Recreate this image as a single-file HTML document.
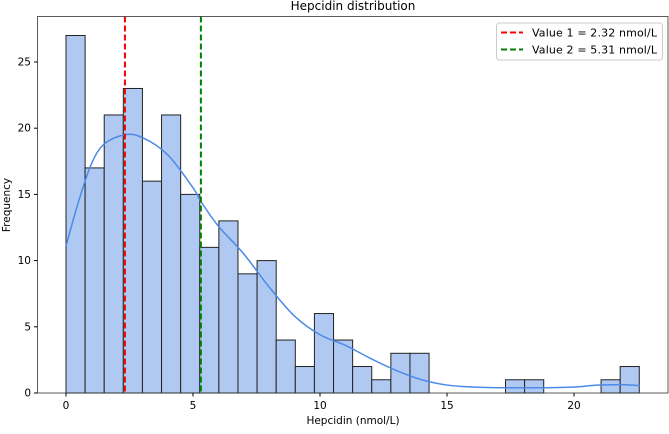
<!DOCTYPE html>
<html><head><meta charset="utf-8"><style>
body{margin:0;background:#fff;}
svg text{font-family:"DejaVu Sans","Liberation Sans",sans-serif;fill:#000;}
</style></head><body>
<svg id="chart" width="669" height="429">
<text x="353" y="10" font-size="12" text-anchor="middle">Hepcidin distribution</text>
<g id="bars"></g>
<path id="kde" fill="none" stroke="#4c8ae8" stroke-width="1.5"></path>
<g id="vlines"></g>
<rect x="37.5" y="16.5" width="630.5" height="376.5" fill="none" stroke="#333" stroke-width="0.8"/>
<g id="xticks"></g><g id="yticks"></g>
<text x="353" y="424" font-size="10.5" text-anchor="middle">Hepcidin (nmol/L)</text>
<text transform="translate(10,205) rotate(-90)" font-size="10.5" text-anchor="middle">Frequency</text>
<g>
<rect x="496.5" y="23" width="166" height="37" rx="3" fill="#fff" stroke="#ccc"/>
<line x1="501" y1="32.5" x2="523" y2="32.5" stroke="#f00" stroke-width="2" stroke-dasharray="6,3"/>
<text x="532" y="36.5" font-size="11" textLength="125">Value 1 = 2.32 nmol/L</text>
<line x1="501" y1="49.5" x2="523" y2="49.5" stroke="#008000" stroke-width="2" stroke-dasharray="6,3"/>
<text x="532" y="53.5" font-size="11" textLength="125">Value 2 = 5.31 nmol/L</text>
</g>
</svg>
<script>
const counts=[27,17,21,23,16,21,15,11,13,9,10,4,2,6,4,2,1,3,3,0,0,0,0,1,1,0,0,0,1,2];
const binStart=0, binEnd=22.57;
const kdeX=[0,0.5,1,1.5,2.3,3,4,5,5.3,6,7,8,9,10,11,12,13,14,15,16,17,18,19,20,21,22,22.6];
const kdeY=[11.1,14.5,17.3,18.8,19.5,19.3,18,15.5,14.5,12.6,10.5,8,5.8,4.4,3.6,2.6,1.7,1.0,0.6,0.45,0.4,0.4,0.4,0.45,0.6,0.62,0.55];
const refValues=[2.32,5.31];
const refColors=["#ff0000","#008000"];
const xTicks=[0,5,10,15,20];
const yTicks=[0,5,10,15,20,25];
const NS="http://www.w3.org/2000/svg";
const X=v=>66+v*25.4, Y=v=>393-v*13.24;
function mk(t,a,p){const e=document.createElementNS(NS,t);for(const k in a)e.setAttribute(k,a[k]);p.appendChild(e);return e;}
const bars=document.getElementById('bars');
const w=(binEnd-binStart)/counts.length;
counts.forEach((c,i)=>{if(!c)return;
 const x0=X(binStart+i*w),x1=X(binStart+(i+1)*w);
 const r=mk('rect',{x:x0,y:Y(c),width:x1-x0,height:Y(0)-Y(c),fill:'#b0c9f2',stroke:'#222','stroke-width':1},bars);
 
 
});
const P=kdeX.map((x,i)=>[X(x),Y(kdeY[i])]);
let d='M'+P[0][0]+','+P[0][1];
for(let i=0;i<P.length-1;i++){const p0=P[Math.max(i-1,0)],p1=P[i],p2=P[i+1],p3=P[Math.min(i+2,P.length-1)];
 d+='C'+(p1[0]+(p2[0]-p0[0])/6)+','+(p1[1]+(p2[1]-p0[1])/6)+' '+(p2[0]-(p3[0]-p1[0])/6)+','+(p2[1]-(p3[1]-p1[1])/6)+' '+p2[0]+','+p2[1];}
document.getElementById('kde').setAttribute('d',d);
const vl=document.getElementById('vlines');
refValues.forEach((v,i)=>{const l=mk('line',{x1:X(v),x2:X(v),y1:16.5,y2:393,stroke:refColors[i],'stroke-width':2,'stroke-dasharray':'6,3'},vl);
 
 });
const xt=document.getElementById('xticks');
xTicks.forEach(t=>{mk('line',{x1:X(t),x2:X(t),y1:393,y2:396.5,stroke:'#000'},xt);
 const e=mk('text',{x:X(t),y:409,'font-size':10.5,'text-anchor':'middle'},xt);e.textContent=t;
 
 });
const yt=document.getElementById('yticks');
yTicks.forEach(t=>{mk('line',{x1:34,x2:37.5,y1:Y(t),y2:Y(t),stroke:'#000'},yt);
 const e=mk('text',{x:31,y:Y(t)+3.5,'font-size':10.5,'text-anchor':'end'},yt);e.textContent=t;
 
 });
</script>
</body></html>
